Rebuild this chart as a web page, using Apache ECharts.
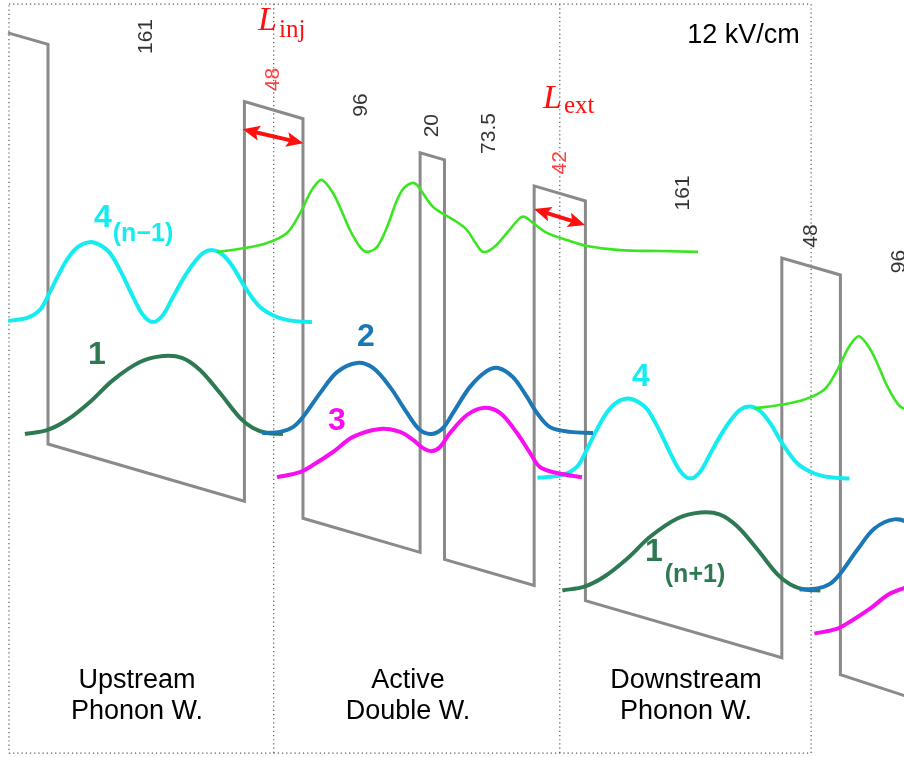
<!DOCTYPE html>
<html><head><meta charset="utf-8">
<script src="https://cdn.jsdelivr.net/npm/echarts@6/dist/echarts.min.js"></script>
<style>html,body{margin:0;padding:0;background:#fff}#c{width:904px;height:757px}</style>
</head><body><div id="c"></div>
<script>
// ---------------- data ----------------
// layer thicknesses (Å), left to right; 1 = labelled in red
const layerWidths = [161, 48, 96, 20, 73.5, 42, 161, 48, 96];
const layerRed    = [0, 1, 0, 0, 0, 1, 0, 0, 0];
const fieldLabel = '12 kV/cm';
const fieldSlope = 0.12;      // meV per Å  (12 kV/cm)
const barrierHeight = 135;    // meV
const periodZ = 440.5;        // Å, one cascade module

// conduction-band profile (z in Å, V in meV)
const bandZ = [-32.8, 0, 0, 161, 161, 209, 209, 305, 305, 325, 325, 398.5, 398.5, 440.5, 440.5, 601.5, 601.5, 649.5, 649.5, 702];
const bandV = [138.9, 135, 0, -19.3, 115.7, 109.9, -25.1, -36.6, 98.4, 96.0, -39.0, -47.8, 87.2, 82.1, -52.9, -72.2, 62.8, 57.1, -77.9, -85.0];

// wavefunctions |psi|^2 drawn at their energy (z Å, E meV)
const psi4 = [[-39.3,41.5],[-32.8,41.6],[-17.2,42.6],[-6.6,45.3],[0,50.0],[8.2,56.8],[16.4,62.8],[24.6,66.6],[34.4,68.2],[42.6,67.2],[50.8,64.5],[60.7,57.4],[69.7,49.7],[77.9,43.6],[86.1,41.2],[94.3,43.6],[102.5,49.7],[110.7,55.7],[118.9,60.8],[127.0,64.5],[135.2,65.5],[143.4,63.9],[151.6,59.8],[161.5,53.0],[173.8,46.3],[187.7,42.9],[200.8,41.6],[216.4,41.2]];
const psi5 = [[138.5,64.9],[161.5,66.2],[179.5,67.9],[195.9,71.3],[206.6,78.0],[214.8,84.8],[219.7,87.8],[224.6,89.2],[233.6,84.8],[241.0,78.4],[247.5,72.3],[255.7,66.6],[261.5,64.9],[269.7,66.6],[277.9,73.3],[286.1,82.4],[291.8,86.5],[298.4,88.2],[302.5,87.5],[306.6,85.1],[315.6,80.1],[325.4,77.4],[335.2,75.0],[343.4,72.3],[351.6,67.2],[356.6,64.9],[364.8,66.2],[376.2,71.3],[386.9,76.4],[391.0,76.7],[397.5,74.7],[409.0,71.3],[425.4,68.9],[441.8,66.9],[468.9,65.5],[501.6,65.2],[532.8,64.9]];
const psi1 = [[-18.9,3.4],[-0.8,4.7],[15.6,8.1],[34.4,14.2],[53.3,21.6],[75.4,27.7],[94.3,29.7],[109.8,29.1],[124.6,25.0],[141.0,17.2],[157.4,8.8],[168.0,5.4],[179.5,3.7],[192.6,3.4]];
const psi2 = [[175.4,3.7],[190.2,4.1],[200.8,5.7],[209.0,9.1],[223.0,17.2],[236.9,24.3],[253.3,27.4],[266.4,25.7],[280.3,19.3],[294.3,10.5],[304.9,4.7],[314.8,3.4],[323.8,5.4],[332.0,10.5],[345.9,19.3],[359.8,24.7],[368.9,25.7],[381.1,22.6],[392.6,15.9],[400.8,10.5],[411.5,5.7],[427.9,4.1],[446.7,3.7]];
const psi3 = [[187.7,-11.2],[206.6,-9.5],[217.2,-7.1],[233.6,-2.7],[250.0,2.4],[272.1,5.1],[288.5,4.1],[299.2,1.4],[307.4,-1.4],[314.8,-2.4],[321.3,-1.0],[329.5,3.7],[343.4,9.8],[356.6,12.2],[370.5,10.5],[384.4,3.7],[395.1,-3.0],[403.3,-7.8],[417.2,-9.8],[437.7,-11.2]];

// injection / extraction barrier arrows
const arrowFrom = [[159.6,106.3],[398.4,79.4]];
const arrowTo   = [[209.3,101.6],[440.2,74.0]];

// module dividers and frame (data units)
const moduleDividers = [185, 419.5];
const frameZ = [-32.0, 625.5];
const frameE = [-104.4, 148.6];

const regionNames = [['Upstream','Phonon W.'],['Active','Double W.'],['Downstream','Phonon W.']];

// ---------------- styles ----------------
const C = {
  band:'#8a8a8a', cyan:'#14ecf0', green:'#3ae621', dkgreen:'#2d7a52',
  blue:'#1b77b5', magenta:'#f70ff0', red:'#ff1010', frame:'#555'
};
const SANS = '"Liberation Sans", Arial, Helvetica, sans-serif';
const SERIF = '"Liberation Serif", "Times New Roman", serif';

const chart = echarts.init(document.getElementById('c'), null, {renderer:'canvas'});

// smooth curve through pixel points (tangents scaled by chord length)
function curvePath(px){
  const n = px.length;
  function dist(a,b){ return Math.hypot(b[0]-a[0], b[1]-a[1]); }
  const T = px.map(function(p,i){
    const a = px[Math.max(i-1,0)], b = px[Math.min(i+1,n-1)];
    const s = dist(a,p) + dist(p,b) || 1;
    return [(b[0]-a[0])/s, (b[1]-a[1])/s];
  });
  let d = 'M' + px[0][0].toFixed(2) + ' ' + px[0][1].toFixed(2);
  for (let i = 0; i < n-1; i++){
    const p = px[i], q = px[i+1], L = dist(p,q)/1.5;
    d += ' C' + (p[0]+T[i][0]*L/2).toFixed(2) + ' ' + (p[1]+T[i][1]*L/2).toFixed(2) + ' '
       + (q[0]-T[i+1][0]*L/2).toFixed(2) + ' ' + (q[1]-T[i+1][1]*L/2).toFixed(2) + ' '
       + q[0].toFixed(2) + ' ' + q[1].toFixed(2);
  }
  return d;
}

const series = [];
// frame
series.push({type:'line', silent:true, symbol:'none', z:1, animation:false,
  lineStyle:{color:C.frame, width:1.2, type:[1.2,3]},
  data:[[frameZ[0],frameE[1]],[frameZ[1],frameE[1]],[frameZ[1],frameE[0]],[frameZ[0],frameE[0]],[frameZ[0],frameE[1]]]});
moduleDividers.forEach(function(z){
  series.push({type:'line', silent:true, symbol:'none', z:1, animation:false,
    lineStyle:{color:C.frame, width:1.2, type:[1.2,3]},
    data:[[z,frameE[1]],[z,frameE[0]]]});
});
// band
series.push({type:'line', silent:true, symbol:'none', z:2, animation:false,
  lineStyle:{color:C.band, width:3, join:'miter'},
  data: bandZ.map(function(z,i){return [z, bandV[i]];})});
// wavefunctions
const states = [
  {pts:psi4, color:C.cyan, w:4},
  {pts:psi5, color:C.green, w:2.6},
  {pts:psi1, color:C.dkgreen, w:4},
  {pts:psi2, color:C.blue, w:4},
  {pts:psi3, color:C.magenta, w:4}
];
const copies = [0, 1];
states.forEach(function(s, si){
  copies.forEach(function(k){
    const data = s.pts.map(function(p){return [p[0]+k*periodZ, p[1]-k*periodZ*fieldSlope];});
    series.push({type:'custom', silent:true, clip:true, z:3+si*0.1, animation:false,
      encode:{x:0, y:1},
      data:data,
      renderItem:function(params, api){
        if (params.dataIndex !== 0) return null;
        const px = data.map(function(p){ return api.coord(p); });
        return {type:'path', shape:{pathData:curvePath(px)},
          style:{fill:null, stroke:s.color, lineWidth:s.w, lineCap:'butt', lineJoin:'round'}};
      }});
  });
});
// layer thickness labels
(function(){
  let z = 0; const d = [];
  layerWidths.forEach(function(w, i){
    const zc = z + w/2; z += w;
    d.push({value:[zc, barrierHeight - fieldSlope*zc + 6.4],
      label:{color: layerRed[i] ? C.red : '#000'}});
  });
  series.push({type:'scatter', silent:true, symbolSize:1, z:6, animation:false,
    itemStyle:{color:'rgba(0,0,0,0)'},
    label:{show:true, position:'inside', rotate:90, align:'left', verticalAlign:'middle',
      fontSize:21, fontFamily:SANS,
      formatter:function(p){return String(layerWidths[p.dataIndex]);}},
    data:d});
})();
// arrows
series.push({type:'custom', silent:true, z:7, animation:false,
  data: arrowFrom.map(function(a,i){return [a[0],a[1],arrowTo[i][0],arrowTo[i][1]];}),
  encode:{x:[0,2], y:[1,3]},
  renderItem:function(params, api){
    const p1 = api.coord([api.value(0), api.value(1)]);
    const p2 = api.coord([api.value(2), api.value(3)]);
    const dx = p2[0]-p1[0], dy = p2[1]-p1[1], len = Math.sqrt(dx*dx+dy*dy);
    const ux = dx/len, uy = dy/len, nx = -uy, ny = ux;
    const L = 17, W = 7.5;
    function head(t, sx, sy){
      const bx = t[0]+sx*L, by = t[1]+sy*L;
      const cx = t[0]+sx*L*0.8, cy = t[1]+sy*L*0.8;
      return {type:'polygon', shape:{points:[[t[0],t[1]],[bx+nx*W,by+ny*W],[cx,cy],[bx-nx*W,by-ny*W]]},
        style:{fill:C.red}};
    }
    return {type:'group', children:[
      {type:'line', shape:{x1:p1[0]+ux*L*0.7, y1:p1[1]+uy*L*0.7, x2:p2[0]-ux*L*0.7, y2:p2[1]-uy*L*0.7},
        style:{stroke:C.red, lineWidth:4}},
      head(p1, ux, uy), head(p2, -ux, -uy)
    ]};
  }});

// ---------------- annotations ----------------
function T(x, y, text, fill, font, align){
  return {type:'text', x:x, y:y, z:20, silent:true,
    style:{text:text, fill:fill, font:font, align:align||'center', textAlign:align||'center',
      verticalAlign:'middle', textVerticalAlign:'middle'}};
}
const B32 = 'bold 32px ' + SANS, B25 = 'bold 25px ' + SANS;
const graphics = [
  T(743.5, 36, fieldLabel, '#000', '27px ' + SANS),
  // state labels
  T(103, 218, '4', C.cyan, B32), T(143, 234, '(n\u22121)', C.cyan, B25),
  T(97, 355, '1', C.dkgreen, B32),
  T(366, 337, '2', C.blue, B32),
  T(337, 421, '3', C.magenta, B32),
  T(641, 377, '4', C.cyan, B32),
  T(654, 552, '1', C.dkgreen, B32), T(695, 575, '(n+1)', C.dkgreen, B25),
  // L_inj, L_ext
  T(267.5, 21, 'L', C.red, 'italic 34px ' + SERIF), T(279, 30, 'inj', C.red, '25px ' + SERIF, 'left'),
  T(552.5, 99, 'L', C.red, 'italic 34px ' + SERIF), T(564, 106, 'ext', C.red, '25px ' + SERIF, 'left')
];
const regionX = [137, 408, 686];
regionNames.forEach(function(r, i){
  graphics.push(T(regionX[i], 681, r[0], '#000', '27px ' + SANS));
  graphics.push(T(regionX[i], 712, r[1], '#000', '27px ' + SANS));
});

chart.setOption({
  animation:false,
  backgroundColor:'#fff',
  grid:{left:8, right:0, top:0, bottom:0, containLabel:false},
  xAxis:{type:'value', min:-32.787, max:701.639, show:false},
  yAxis:{type:'value', min:-105.74, max:150, show:false},
  series:series,
  graphic:graphics
});
</script></body></html>
